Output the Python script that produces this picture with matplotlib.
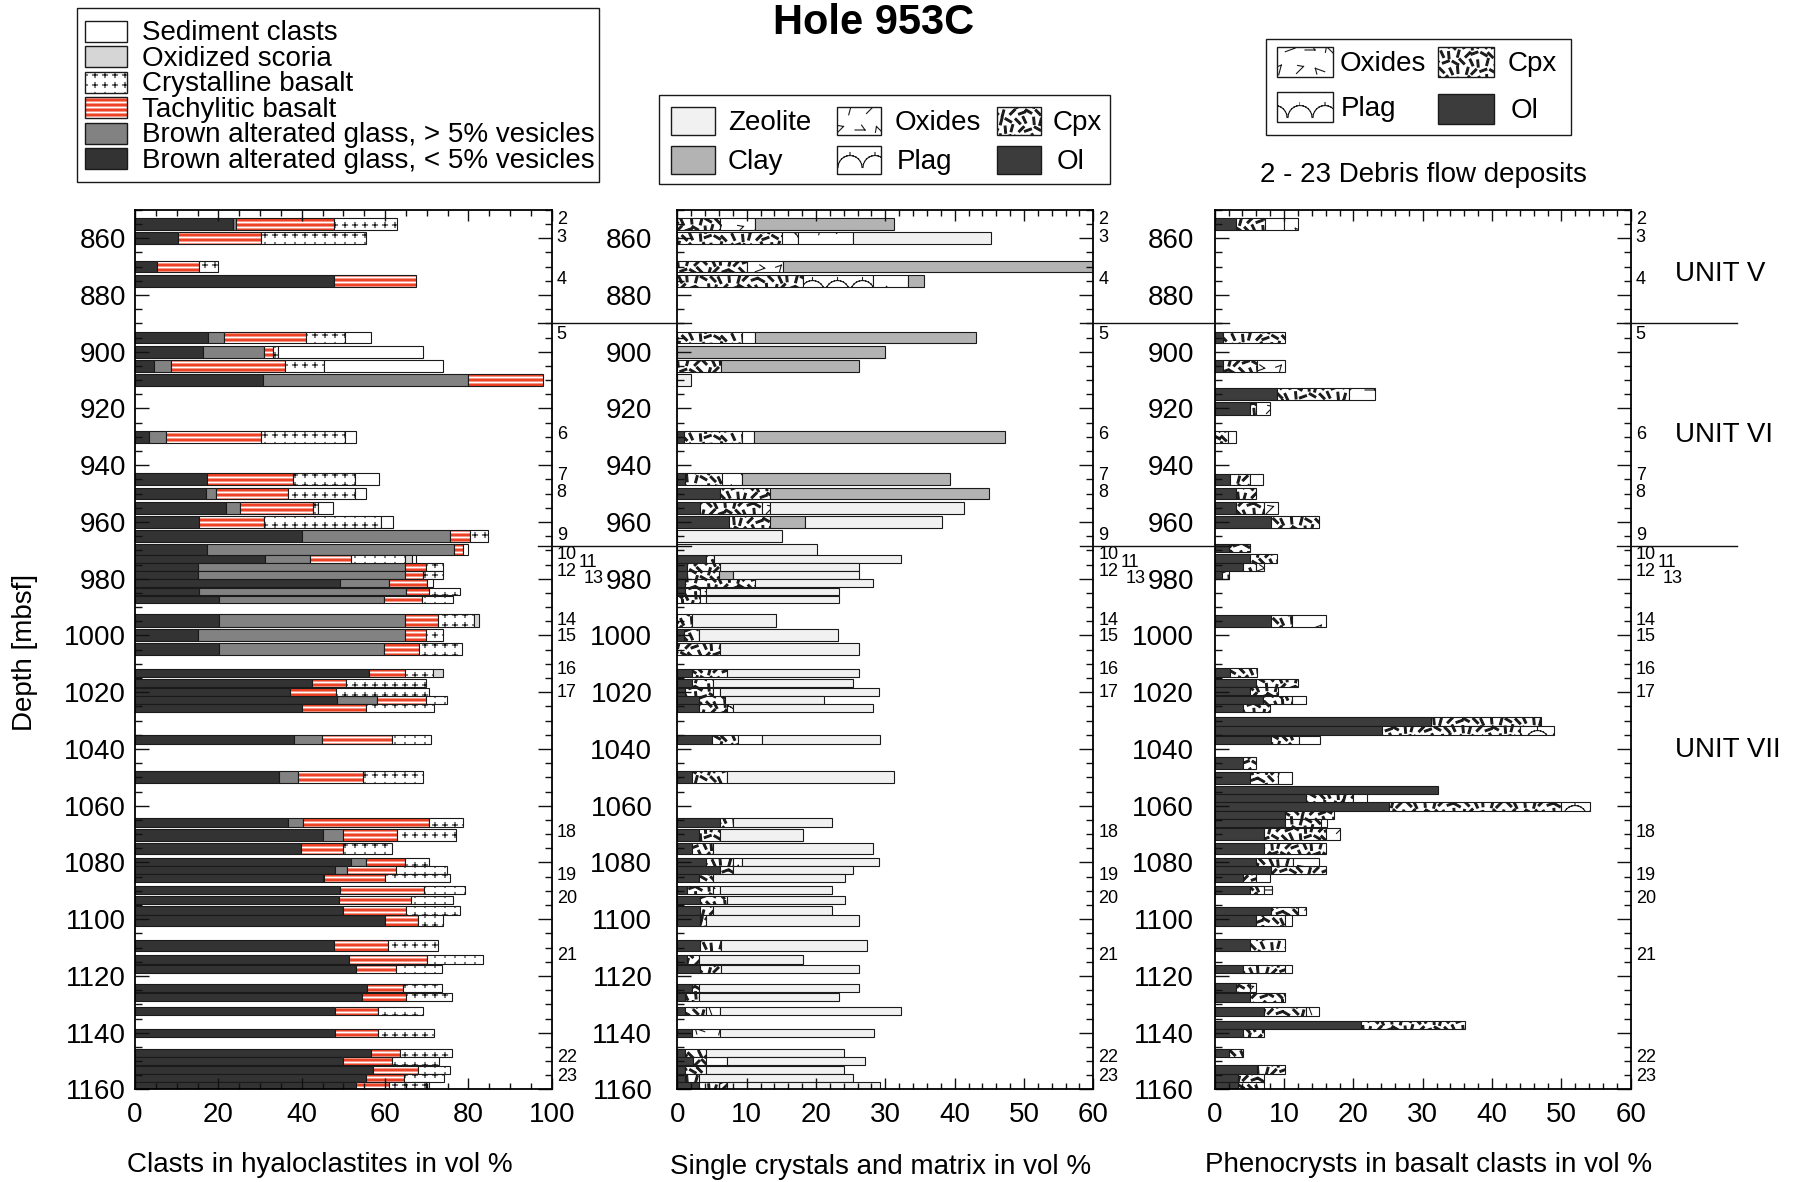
import numpy as np
import matplotlib
matplotlib.use("Agg")
import matplotlib.pyplot as plt
import matplotlib.transforms as mtransforms
from matplotlib import hatch as mhatch
from matplotlib.path import Path
from matplotlib.patches import Rectangle
from matplotlib.lines import Line2D
from matplotlib.ticker import MultipleLocator

# ---------------------------------------------------------------------------
# Data: Hole 953C, hyaloclastite / debris-flow samples (depth in mbsf)
# ---------------------------------------------------------------------------
sample_depth = [855, 860, 870, 875, 895, 900, 905, 910, 930, 945, 950, 955, 960,
                965, 969.6, 973.0, 975.9, 978.7, 981.6, 984.5, 987.3, 994.7, 999.9,
                1004.9, 1013.2, 1016.9, 1019.8, 1022.8, 1025.7, 1036.7, 1050.0,
                1065.9, 1070.3, 1075.1, 1079.8, 1082.7, 1085.6, 1089.7, 1093.2,
                1096.9, 1100.4, 1109.2, 1114.2, 1117.6, 1124.2, 1127.5, 1132.4,
                1140.1, 1147.2, 1150.1, 1153.0, 1155.9, 1158.7]
sample_interval = [4.1, 4.1, 4.1, 4.1, 4.1, 4.1, 4.1, 4.2, 4.2, 4.2, 4.1, 4.1, 4.1,
                   4.2, 3.9, 2.6, 2.6, 2.6, 2.8, 2.7, 2.7, 4.3, 4.2,
                   4.3, 3.1, 2.8, 2.8, 2.8, 2.8, 3.0, 4.2,
                   2.9, 4.1, 4.1, 2.9, 2.8, 2.8, 3.0, 2.9,
                   3.0, 3.9, 4.1, 3.0, 3.0, 2.9, 2.9, 3.0,
                   2.9, 2.8, 2.8, 2.8, 2.8, 2.7]

# Clasts in hyaloclastites (vol %)
glass_dense = [23.4, 10.4, 5.2, 47.7, 17.6, 16.2, 4.6, 30.6, 3.4, 17.2, 17.0, 21.8, 15.4,
               40.0, 17.2, 31.2, 15.2, 15.2, 49.2, 15.4, 20.2, 20.2, 15.2,
               20.2, 56.2, 42.4, 37.1, 48.4, 40.0, 38.2, 34.6,
               36.8, 45.0, 39.8, 51.8, 48.0, 45.0, 49.2, 49.0,
               50.0, 60.0, 47.7, 51.4, 53.0, 55.6, 54.4, 47.9,
               47.9, 56.6, 49.8, 57.0, 55.4, 53.0]
glass_vesicular = [0.8, 0, 0, 0, 3.8, 14.8, 4.0, 49.2, 4.0, 0, 2.4, 3.4, 0,
                   35.6, 59.4, 10.9, 49.6, 49.6, 11.8, 49.6, 39.6, 44.6, 49.6,
                   39.6, 0, 0, 0, 9.6, 0, 6.6, 4.4,
                   3.6, 4.8, 0, 3.6, 2.8, 0.4, 0, 0,
                   0, 0, 0, 0, 0, 0, 0, 0,
                   0, 0, 0, 0, 0, 0]
tachylitic = [23.6, 19.8, 10.2, 19.7, 19.6, 2.0, 27.4, 18.2, 22.8, 20.8, 17.2, 17.6, 15.6,
              4.8, 2.2, 9.8, 5.0, 4.2, 9.0, 5.6, 9.0, 8.0, 5.0,
              8.4, 8.6, 8.2, 11.1, 11.8, 15.4, 16.8, 15.6,
              30.2, 13.0, 10.0, 9.4, 11.8, 14.6, 20.2, 17.2,
              15.0, 7.8, 13.1, 18.6, 9.6, 8.6, 10.6, 10.3,
              10.3, 7.0, 11.8, 10.8, 9.2, 8.0]
crystalline = [15.0, 25.2, 4.4, 0, 9.4, 1.2, 9.3, 0, 20.2, 14.8, 16.2, 1.0, 28.0,
               4.4, 0, 12.9, 4.0, 4.8, 0, 7.4, 7.4, 8.6, 4.0,
               10.2, 6.8, 19.2, 22.4, 5.0, 16.4, 9.4, 14.4,
               8.0, 14.2, 11.8, 5.8, 12.2, 15.6, 9.8, 10.0,
               13.0, 6.2, 11.8, 13.6, 11.0, 9.4, 11.0, 11.0,
               13.6, 12.4, 11.4, 7.8, 9.6, 8.8]
scoria = [0, 0, 0, 0, 0, 0, 0, 0, 0, 0, 0, 0, 0,
          0, 0, 1.6, 0, 0, 0, 0, 0, 1.2, 0,
          0, 2.4, 0, 0, 0, 0, 0, 0,
          0, 0, 0, 0, 0, 0, 0, 0,
          0, 0, 0, 0, 0, 0, 0, 0,
          0, 0, 0, 0, 0, 0]
sediment = [0, 0, 0, 0, 6.2, 34.8, 28.5, 0, 2.6, 5.8, 2.6, 3.6, 3.0,
            0, 1.0, 1.0, 0, 0, 1.4, 0, 0, 0, 0,
            0, 0, 0, 0, 0, 0, 0, 0,
            0, 0, 0, 0, 0, 0, 0, 0,
            0, 0, 0, 0, 0, 0, 0, 0,
            0, 0, 0, 0, 0, 0.8]

# Single crystals and matrix (vol %)
xtal_ol = [0, 0, 0, 0, 0, 0, 0, 0, 1.0, 1.1, 6.1, 3.3, 7.4,
           0, 0, 4.1, 1.35, 1.35, 1.1, 1.1, 0, 0, 0.9,
           0, 2.1, 2.1, 1.1, 3.2, 3.2, 5.0, 2.1,
           6.15, 3.2, 2.1, 4.1, 6.15, 3.2, 1.35, 3.3,
           3.3, 3.3, 3.3, 1.35, 3.3, 2.1, 1.1, 1.1,
           2.1, 1.1, 2.3, 1.1, 1.1, 3.2]
xtal_cpx = [6.2, 15.1, 10.1, 18.2, 9.3, 0, 6.25, 0, 8.3, 5.3, 7.2, 8.9, 6.0,
            0, 0, 1.2, 4.8, 4.7, 10.1, 2.2, 3.3, 2.1, 2.3,
            6.15, 5.1, 3.1, 4.0, 3.7, 3.9, 3.8, 5.1,
            1.95, 2.95, 3.1, 4.0, 1.95, 2.0, 3.85, 3.8,
            1.9, 0.9, 2.95, 1.85, 2.95, 1.1, 2.1, 3.0,
            0, 3.0, 1.9, 3.0, 2.1, 3.9]
xtal_plag = [0, 2.3, 0, 10.0, 0, 0, 0, 0, 0, 0, 0, 0, 0,
             0, 0, 0, 0, 0, 0, 0, 0, 0, 0,
             0, 0, 0, 0, 0, 1.0, 0, 0,
             0, 0, 0, 0, 0, 0, 0, 0,
             0, 0, 0, 0, 0, 0, 0, 0,
             0, 0, 0, 0, 0, 0]
xtal_oxides = [5.0, 7.9, 5.2, 5.1, 1.9, 0, 0, 0, 1.7, 2.9, 0, 1.2, 0,
               0, 0, 0, 0, 0, 0, 0.9, 0.9, 0, 0,
               0, 0, 0, 1.05, 0, 0, 3.4, 0,
               0, 0, 0, 1.2, 0, 0, 0.95, 0,
               0, 0, 0, 0, 0, 0, 0, 2.05,
               4.05, 0, 2.9, 0, 0, 0]
matrix_clay = [20.0, 0, 44.7, 2.3, 31.9, 30.0, 20.0, 0, 36.2, 30.1, 31.7, 0, 5.0,
               0, 0, 0, 0, 2.05, 0, 0, 0, 0, 0,
               0, 0, 0, 0, 0, 0, 0, 0,
               0, 0, 0, 0, 0, 0, 0, 0,
               0, 0, 0, 0, 0, 0, 0, 0,
               0, 0, 0, 0, 0, 0]
matrix_zeolite = [0, 19.9, 0, 0, 0, 0, 0, 2.0, 0, 0, 0, 27.9, 19.8,
                  15.1, 20.2, 26.9, 20.05, 18.1, 17.0, 19.1, 19.1, 12.1, 20.0,
                  20.05, 19.0, 20.1, 22.95, 14.3, 20.1, 17.1, 24.05,
                  14.2, 12.05, 23.0, 19.8, 17.2, 19.0, 16.15, 17.1,
                  17.1, 22.05, 21.05, 15.0, 20.0, 23.05, 20.1, 26.05,
                  22.15, 20.0, 19.9, 20.0, 22.1, 22.1]

# Phenocrysts in basalt clasts (vol %)
pheno_depth = [855, 895, 905, 915, 920, 930, 945, 950, 955, 960,
               969.3, 972.9, 975.8, 978.7, 994.8, 1013.2, 1016.8, 1019.7, 1022.7, 1025.6,
               1030.2, 1033.4, 1036.8, 1045.1, 1050.1, 1054.4, 1057.3, 1060.3, 1063.2, 1066.0,
               1070.1, 1075.1, 1079.8, 1082.7, 1085.6, 1089.6, 1097.0, 1100.5, 1109.1, 1117.6,
               1124.1, 1127.6, 1132.5, 1137.2, 1140.2, 1147.2, 1152.9, 1155.9, 1158.8]
pheno_interval = [4.1, 4.1, 4.1, 4.1, 4.3, 4.2, 4.1, 4.1, 4.1, 4.1,
                  2.8, 2.9, 2.9, 2.8, 4.1, 3.2, 2.9, 2.9, 2.9, 2.9,
                  3.2, 3.3, 2.9, 4.2, 4.2, 3.0, 2.8, 2.9, 2.9, 2.7,
                  4.3, 4.1, 2.8, 2.9, 2.8, 2.9, 2.9, 4.1, 4.2, 2.9,
                  3.2, 2.9, 2.9, 2.9, 2.8, 2.9, 3.2, 2.7, 2.7]
pheno_ol = [3.0, 1.2, 1.2, 9.0, 5.05, 0, 2.2, 3.0, 3.0, 8.1,
            2.1, 5.05, 4.1, 1.0, 8.1, 2.2, 6.0, 5.05, 7.0, 4.1,
            31.25, 24.1, 8.1, 4.1, 5.1, 32.2, 13.1, 25.2, 10.1, 10.1,
            7.1, 7.1, 6.0, 8.1, 4.1, 5.1, 8.1, 6.0, 5.05, 4.1,
            3.0, 5.05, 7.1, 21.15, 4.1, 2.1, 6.15, 3.4, 3.4]
pheno_cpx = [4.2, 8.9, 4.95, 10.3, 0.95, 1.9, 2.85, 3.0, 4.1, 6.9,
             3.0, 3.95, 1.9, 1.0, 3.0, 3.95, 6.0, 4.05, 4.1, 3.9,
             15.75, 19.9, 4.0, 1.9, 4.0, 0, 6.9, 24.8, 7.1, 5.3,
             9.0, 9.0, 5.3, 8.0, 1.9, 2.0, 3.9, 4.1, 5.05, 6.0,
             2.05, 5.05, 6.0, 15.0, 3.0, 2.0, 3.95, 3.7, 3.7]
pheno_plag = [2.8, 0, 0, 0, 0, 0, 0, 0, 0, 0,
              0, 0, 0, 0, 0, 0, 0, 0, 0, 0,
              0, 5.0, 0, 0, 0, 0, 0, 4.2, 0, 0,
              0, 0, 0, 0, 0, 0, 0, 0, 0, 0,
              0, 0, 0, 0, 0, 0, 0, 0, 0]
pheno_oxides = [2.0, 0, 3.95, 3.8, 2.0, 1.1, 1.95, 0, 2.0, 0,
                0, 0, 1.1, 0, 5.0, 0, 0, 0, 2.0, 0,
                0, 0, 3.1, 0, 2.05, 0, 2.0, 0, 0, 0.8,
                1.9, 0, 3.8, 0, 2.0, 1.1, 1.1, 1.0, 0, 1.0,
                0.95, 0, 2.0, 0, 0, 0, 0, 0, 0]

# Lithostratigraphic units and debris-flow numbering
unit_boundaries = [890.0, 968.6]
unit_names = ["UNIT V", "UNIT VI", "UNIT VII"]
unit_label_depth = [872.5, 929.3, 1040.3]
flow_numbers = [str(n) for n in range(2, 24)]
flow_depth = [853.5, 859.6, 874.6, 894.0, 929.3, 943.5, 949.6, 964.6, 971.5, 974.3,
              977.6, 980.0, 994.6, 1000.3, 1012.0, 1020.1, 1069.6, 1084.6, 1092.7,
              1112.9, 1148.6, 1155.5]
flow_shifted = {"11": 22, "13": 27}   # labels set beside their neighbours (pixels)

# ---------------------------------------------------------------------------
# Lithology fill patterns (one hatch tile = 1 inch)
# ---------------------------------------------------------------------------
def _copies(pts):
    pts = np.asarray(pts, float)
    out = [pts]
    for dx in (-1, 0, 1):
        for dy in (-1, 0, 1):
            if dx == 0 and dy == 0:
                continue
            s = pts + (dx, dy)
            lo, hi = s.min(axis=0), s.max(axis=0)
            if hi[0] > 0 and lo[0] < 1 and hi[1] > 0 and lo[1] < 1:
                out.append(s)
    return out


def _add(v, c, pts, closed=False):
    for cp in _copies(pts):
        v.extend(cp.tolist())
        c.append(Path.MOVETO)
        c.extend([Path.LINETO] * (len(cp) - 1))
        if closed:
            v.append(cp[0].tolist())
            c.append(Path.CLOSEPOLY)


class _TileHatch(mhatch.HatchPatternBase):
    symbol = ""

    def __init__(self, hatch, density):
        self.verts, self.codes = [], []
        if hatch.count(self.symbol):
            self.build(self.verts, self.codes)
        self.num_vertices = len(self.verts)

    def set_vertices_and_codes(self, vertices, codes):
        vertices[:] = np.asarray(self.verts, float)
        codes[:] = np.asarray(self.codes, dtype=Path.code_type)


class Stripes(_TileHatch):
    symbol = "-"

    def build(self, v, c):
        n, h = 20, 0.008
        for k in range(n):
            y = (k + 0.5) / n
            _add(v, c, [(0, y - h / 2), (1, y - h / 2), (1, y + h / 2), (0, y + h / 2)], True)


class PlusMarks(_TileHatch):
    symbol = "*"

    def build(self, v, c):
        n, a = 10, 0.025
        for i in range(n):
            for j in range(n):
                cx, cy = (i + 0.5) / n, (j + 0.5) / n
                _add(v, c, [(cx - a, cy), (cx + a, cy)])
                _add(v, c, [(cx, cy - a), (cx, cy + a)])


class CpxMarks(_TileHatch):
    symbol = "O"
    angles = [20, 75, 115, 150, 45, 95, 135]

    def build(self, v, c):
        n, half_len, half_w = 12, 0.036, 0.009
        for i in range(n):
            for j in range(n):
                cx = (i + 0.5 + 0.5 * (j % 2)) / n + ((i * 7 + j * 3) % 5 - 2) * 0.006
                cy = (j + 0.5) / n + ((i * 3 + j * 7) % 5 - 2) * 0.005
                t = np.radians(self.angles[(i * 3 + j * 5) % 7])
                u = np.array([np.cos(t), np.sin(t)])
                p = np.array([-np.sin(t), np.cos(t)])
                ctr = np.array([cx, cy])
                _add(v, c, [ctr - half_len * u - half_w * p, ctr + half_len * u - half_w * p,
                            ctr + half_len * u + half_w * p, ctr - half_len * u + half_w * p], True)


class OxideMarks(_TileHatch):
    symbol = "x"
    angles = [20, 135, 75, 160, 45, 110, 0]

    def build(self, v, c):
        n = 5
        for i in range(n):
            for j in range(n):
                cx = (i + 0.5 + 0.5 * (j % 2)) / n
                cy = (j + 0.5) / n
                t = np.radians(self.angles[(i * 2 + j * 3) % 7])
                u = np.array([np.cos(t), np.sin(t)])
                ctr = np.array([cx, cy])
                p0, p1 = ctr - 0.05 * u, ctr + 0.05 * u
                t2 = t + np.radians(125)
                p2 = p1 + 0.06 * np.array([np.cos(t2), np.sin(t2)])
                _add(v, c, [p0, p1])
                _add(v, c, [p1, p2])


class PlagMarks(_TileHatch):
    symbol = "o"

    def build(self, v, c):
        n, r = 4, 0.12
        th = np.linspace(0, np.pi, 13)
        for i in range(n):
            for j in range(n):
                cx = (i + 0.5 + 0.5 * (j % 2)) / n
                cy = (j + 0.3) / n
                xs, ys = cx + r * np.cos(th), cy + r * np.sin(th)
                for k in range(len(th) - 1):
                    _add(v, c, [(xs[k], ys[k]), (xs[k + 1], ys[k + 1])])
                _add(v, c, [(cx, cy + r), (cx, cy + r + 0.03)])


mhatch._hatch_types[:] = [Stripes, PlusMarks, CpxMarks, OxideMarks, PlagMarks]

# ---------------------------------------------------------------------------
# Styles
# ---------------------------------------------------------------------------
plt.rcParams["font.family"] = ["Liberation Sans", "DejaVu Sans"]
plt.rcParams["hatch.linewidth"] = 0.8
EDGE = "#1a1a1a"
EDGE_LW = 0.8

S_DENSE = dict(face="#333333")
S_VESIC = dict(face="#828282")
S_TACHY = dict(face="#ee4226", hatch="-", hatchcolor="white")
S_CRYST = dict(face="white", hatch="*")
S_SCORIA = dict(face="#d6d6d6")
S_SED = dict(face="white")
S_OL = dict(face="#3c3c3c")
S_CPX = dict(face="white", hatch="O")
S_PLAG = dict(face="white", hatch="o")
S_OX = dict(face="white", hatch="x")
S_CLAY = dict(face="#b3b3b3")
S_ZEO = dict(face="#f1f1f1")

W, H = 1804, 1182
fig = plt.figure(figsize=(W / 100, H / 100), dpi=100)


def draw_stack(ax, depth, interval, parts):
    depth = np.asarray(depth, float)
    interval = np.asarray(interval, float)
    left = np.zeros_like(depth)
    for values, st in parts:
        w = np.asarray(values, float)
        m = w > 0
        if m.any():
            if "hatchcolor" in st:
                ax.barh(depth[m], w[m], interval[m], left[m], facecolor=st["face"],
                        edgecolor=st["hatchcolor"], linewidth=0, hatch=st["hatch"])
                ax.barh(depth[m], w[m], interval[m], left[m], fill=False,
                        edgecolor=EDGE, linewidth=EDGE_LW)
            else:
                ax.barh(depth[m], w[m], interval[m], left[m], facecolor=st["face"],
                        edgecolor=EDGE, linewidth=EDGE_LW, hatch=st.get("hatch"))
        left += w


def style_axes(ax, xmax, xmajor, xminor, ypad):
    ax.set_xlim(0, xmax)
    ax.set_ylim(1160, 850)
    ax.set_xticks(np.arange(0, xmax + 0.1, xmajor))
    ax.xaxis.set_minor_locator(MultipleLocator(xminor))
    ax.set_yticks(np.arange(860, 1161, 20))
    ax.yaxis.set_minor_locator(MultipleLocator(5))
    ax.tick_params(which="both", direction="in", top=True, right=True,
                   labelsize=20, width=1.0, color="#111111")
    ax.tick_params(axis="x", which="major", length=8, pad=9)
    ax.tick_params(axis="x", which="minor", length=4.5)
    ax.tick_params(axis="y", which="major", length=10, pad=ypad)
    ax.tick_params(axis="y", which="minor", length=5)
    for s in ax.spines.values():
        s.set_linewidth(1.3)
    for d, lab in zip(flow_depth, flow_numbers):
        ax.annotate(lab, xy=(1, d), xycoords=("axes fraction", "data"),
                    xytext=(5 + flow_shifted.get(lab, 0), 0), textcoords="offset pixels",
                    fontsize=13, ha="left", va="center")


bottom, height = 0.07826, 0.74424
ax1 = fig.add_axes([135 / W, bottom, 416.7 / W, height])
ax2 = fig.add_axes([677.3 / W, bottom, 416 / W, height])
ax3 = fig.add_axes([1214.7 / W, bottom, 416 / W, height])

draw_stack(ax1, sample_depth, sample_interval,
           [(glass_dense, S_DENSE), (glass_vesicular, S_VESIC), (tachylitic, S_TACHY),
            (crystalline, S_CRYST), (scoria, S_SCORIA), (sediment, S_SED)])
draw_stack(ax2, sample_depth, sample_interval,
           [(xtal_ol, S_OL), (xtal_cpx, S_CPX), (xtal_plag, S_PLAG), (xtal_oxides, S_OX),
            (matrix_clay, S_CLAY), (matrix_zeolite, S_ZEO)])
draw_stack(ax3, pheno_depth, pheno_interval,
           [(pheno_ol, S_OL), (pheno_cpx, S_CPX), (pheno_plag, S_PLAG), (pheno_oxides, S_OX)])

style_axes(ax1, 100, 20, 5, 6.5)
style_axes(ax2, 60, 10, 2, 18)
style_axes(ax3, 60, 10, 2, 15)

# unit boundaries between the panels
tr = mtransforms.blended_transform_factory(fig.transFigure, ax1.transData)
for d in unit_boundaries:
    for x0, x1 in [(538, 691), (1080, 1229), (1617, 1737)]:
        fig.add_artist(Line2D([x0 / W, x1 / W], [d, d], transform=tr,
                              color="#111111", linewidth=1.0))
for name, d in zip(unit_names, unit_label_depth):
    ax3.text(1.1065, d, name, transform=ax3.get_yaxis_transform(),
             fontsize=20, ha="left", va="center")

# titles and axis captions
fig.text(874 / W, 1 - 22.5 / H, "Hole 953C", fontsize=30, fontweight="bold",
         ha="center", va="center")
fig.text(320 / W, 1 - 1165.5 / H, "Clasts in hyaloclastites in vol %", fontsize=20,
         ha="center", va="center")
fig.text(881 / W, 1 - 1167.5 / H, "Single crystals and matrix in vol %", fontsize=20,
         ha="center", va="center")
fig.text(1429 / W, 1 - 1165.5 / H, "Phenocrysts in basalt clasts in vol %", fontsize=20,
         ha="center", va="center")
fig.text(25 / W, 1 - 652 / H, "Depth [mbsf]", fontsize=20, rotation=90,
         ha="center", va="center")
fig.text(1423 / W, 1 - 174.5 / H, "2 - 23 Debris flow deposits", fontsize=20,
         ha="center", va="center")


# ---------------------------------------------------------------------------
# Legend boxes (drawn in pixel layout of the figure)
# ---------------------------------------------------------------------------
def px_box(x0, y0, x1, y1, st=None, lw=1.0, edge=EDGE):
    xy = (x0 / W, 1 - y1 / H)
    w, h = (x1 - x0) / W, (y1 - y0) / H
    if st is None:
        fig.add_artist(Rectangle(xy, w, h, transform=fig.transFigure, facecolor="white",
                                 edgecolor=edge, linewidth=lw))
        return
    if "hatchcolor" in st:
        fig.add_artist(Rectangle(xy, w, h, transform=fig.transFigure, facecolor=st["face"],
                                 edgecolor=st["hatchcolor"], linewidth=0, hatch=st["hatch"]))
        fig.add_artist(Rectangle(xy, w, h, transform=fig.transFigure, fill=False,
                                 edgecolor=edge, linewidth=lw))
    else:
        fig.add_artist(Rectangle(xy, w, h, transform=fig.transFigure, facecolor=st["face"],
                                 edgecolor=edge, linewidth=lw, hatch=st.get("hatch")))


def px_text(x, y, s, **kw):
    fig.text(x / W, 1 - y / H, s, fontsize=20, ha="left", va="center", **kw)


# clasts legend
px_box(77, 8, 599, 182, lw=1.0)
clast_entries = [("Sediment clasts", S_SED), ("Oxidized scoria", S_SCORIA),
                 ("Crystalline basalt", S_CRYST), ("Tachylitic basalt", S_TACHY),
                 ("Brown alterated glass, > 5% vesicles", S_VESIC),
                 ("Brown alterated glass, < 5% vesicles", S_DENSE)]
for k, (lab, st) in enumerate(clast_entries):
    yc = 31 + k * 25.55
    px_box(85, yc - 10.5, 127, yc + 10.5, st)
    px_text(141.5, yc + 2, lab)

# single crystals / matrix legend
px_box(659, 95, 1110, 184, lw=1.0)
for (lab, st, x0, xt, yc) in [("Zeolite", S_ZEO, 671, 728, 121), ("Clay", S_CLAY, 671, 728, 160),
                              ("Oxides", S_OX, 837, 895, 121), ("Plag", S_PLAG, 837, 897, 160),
                              ("Cpx", S_CPX, 997, 1053, 121), ("Ol", S_OL, 997, 1057, 160)]:
    px_box(x0, yc - 14, x0 + 44, yc + 14, st)
    px_text(xt, yc + 2, lab)

# phenocryst legend
px_box(1265.5, 39, 1570.5, 134.6, lw=1.0)
for (lab, st, x0, xt, yc) in [("Oxides", S_OX, 1277, 1340, 62), ("Plag", S_PLAG, 1277, 1341, 107),
                              ("Cpx", S_CPX, 1438, 1508, 62), ("Ol", S_OL, 1438, 1511, 109)]:
    px_box(x0, yc - 15, x0 + 56, yc + 15, st)
    px_text(xt, yc + 2, lab)

fig.savefig("out.png", dpi=100)
